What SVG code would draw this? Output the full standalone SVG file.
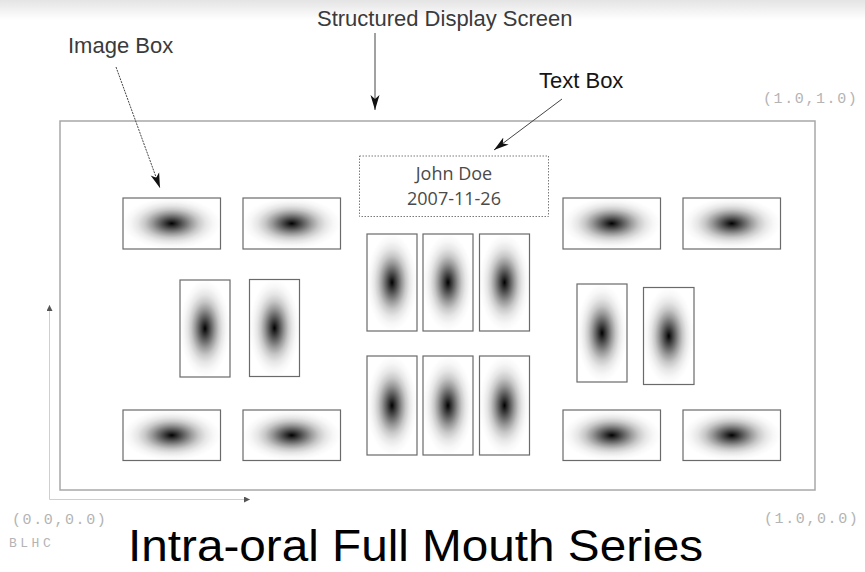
<svg xmlns="http://www.w3.org/2000/svg" width="865" height="572" viewBox="0 0 865 572">
  <defs>
    <linearGradient id="topShade" x1="0" y1="0" x2="0" y2="1">
      <stop offset="0" stop-color="#e4e4e4"/>
      <stop offset="1" stop-color="#ffffff"/>
    </linearGradient>
    <!-- soft gaussian-like blob filling each image box -->
    <radialGradient id="blob" cx="0.5" cy="0.5" r="0.5">
      <stop offset="0" stop-color="#000000"/>
      <stop offset="0.1" stop-color="#2a2a2a"/>
      <stop offset="0.25" stop-color="#636363"/>
      <stop offset="0.4" stop-color="#9a9a9a"/>
      <stop offset="0.55" stop-color="#c8c8c8"/>
      <stop offset="0.7" stop-color="#e6e6e6"/>
      <stop offset="0.85" stop-color="#f7f7f7"/>
      <stop offset="1" stop-color="#ffffff"/>
    </radialGradient>
    <marker id="head" markerUnits="userSpaceOnUse" markerWidth="18" markerHeight="12" refX="15" refY="5" orient="auto">
      <path d="M0,0.5 L15,5 L0,9.5 L4,5 z" fill="#111"/>
    </marker>
    <marker id="axisHead" markerUnits="userSpaceOnUse" markerWidth="8" markerHeight="8" refX="6" refY="3" orient="auto">
      <path d="M0,0 L6,3 L0,6 z" fill="#555"/>
    </marker>
    <style>
      .img { fill: url(#blob); stroke: #6a6a6a; stroke-width: 1.2; }
      .frame { fill: none; stroke: #a8a8a8; stroke-width: 1.5; }
      .label { font-family: "Liberation Sans", Arial, sans-serif; font-size: 22px; fill: #3a3a3a; }
      .coord { font-family: "Liberation Mono", "Courier New", monospace; font-size: 15px; fill: #b4b4b4; letter-spacing: 1.6px; }
      .tb { font-family: "Open Sans", "Noto Sans", sans-serif; font-size: 18px; fill: #4a4a4a; text-anchor: middle; }
      .call { fill: none; stroke: #444; stroke-width: 1; marker-end: url(#head); }
      .axis { fill: none; stroke: #cfcfcf; stroke-width: 1; marker-end: url(#axisHead); }
    </style>
  </defs>

  <rect width="865" height="572" fill="#ffffff"/>
  <rect width="865" height="20" fill="url(#topShade)"/>

  <!-- display screen -->
  <g id="screen">
    <rect class="frame" x="60" y="121" width="755" height="369"/>
  </g>

  <!-- text box -->
  <g id="text-box">
    <rect x="359.5" y="156" width="189" height="60.5" fill="none" stroke="#7a7a7a" stroke-width="1" stroke-dasharray="1.5,1.5"/>
    <text class="tb" x="454" y="180">John Doe</text>
    <text class="tb" x="454" y="205">2007-11-26</text>
  </g>

  <!-- horizontal image boxes, top row -->
  <g id="img-top-1"><rect class="img" x="123" y="198" width="97.5" height="51"/></g>
  <g id="img-top-2"><rect class="img" x="243" y="198" width="97.5" height="51"/></g>
  <g id="img-top-3"><rect class="img" x="563" y="198" width="97.5" height="51"/></g>
  <g id="img-top-4"><rect class="img" x="683" y="198" width="97.5" height="51"/></g>

  <!-- vertical image boxes, left pair -->
  <g id="img-left-1"><rect class="img" x="180" y="280" width="50" height="97"/></g>
  <g id="img-left-2"><rect class="img" x="249.5" y="279.5" width="50" height="97"/></g>

  <!-- vertical image boxes, centre block -->
  <g id="img-mid-1"><rect class="img" x="367" y="234" width="50" height="97"/></g>
  <g id="img-mid-2"><rect class="img" x="423" y="234" width="50" height="97"/></g>
  <g id="img-mid-3"><rect class="img" x="479.5" y="234" width="50" height="97"/></g>
  <g id="img-mid-4"><rect class="img" x="367" y="356" width="50" height="99"/></g>
  <g id="img-mid-5"><rect class="img" x="423" y="356" width="50" height="99"/></g>
  <g id="img-mid-6"><rect class="img" x="479.5" y="356" width="50" height="99"/></g>

  <!-- vertical image boxes, right pair -->
  <g id="img-right-1"><rect class="img" x="577" y="284" width="50" height="98"/></g>
  <g id="img-right-2"><rect class="img" x="643.5" y="287.5" width="50.5" height="97"/></g>

  <!-- horizontal image boxes, bottom row -->
  <g id="img-bot-1"><rect class="img" x="123" y="410" width="97.5" height="50.5"/></g>
  <g id="img-bot-2"><rect class="img" x="243" y="410" width="97.5" height="50.5"/></g>
  <g id="img-bot-3"><rect class="img" x="563" y="410" width="97.5" height="50.5"/></g>
  <g id="img-bot-4"><rect class="img" x="683" y="410" width="97.5" height="50.5"/></g>

  <!-- labels -->
  <g id="label-structured">
    <text class="label" x="317" y="26">Structured Display Screen</text>
  </g>
  <g id="label-image-box">
    <text class="label" x="68" y="53">Image Box</text>
  </g>
  <g id="label-text-box">
    <text class="label" x="539" y="88" style="fill:#151515">Text Box</text>
  </g>

  <!-- coordinate markers -->
  <g id="coords">
    <text class="coord" x="763" y="103">(1.0,1.0)</text>
    <text class="coord" x="764" y="523">(1.0,0.0)</text>
    <text class="coord" x="12" y="524">(0.0,0.0)</text>
    <text class="coord" x="9" y="547" style="font-size:13px;letter-spacing:3.5px">BLHC</text>
  </g>

  <!-- connectors -->
  <g id="connectors">
    <line class="call" x1="375" y1="33" x2="375" y2="110"/>
    <line class="call" x1="116" y1="67" x2="160" y2="188" stroke-dasharray="2,1"/>
    <line class="call" x1="562" y1="99" x2="494" y2="150"/>
    <line class="axis" x1="49.5" y1="499.5" x2="49.5" y2="305"/>
    <line class="axis" x1="49.5" y1="499.5" x2="250" y2="499.5"/>
  </g>

  <!-- title -->
  <g id="title">
    <text x="128" y="561" style="font-family:'Liberation Sans', Arial, sans-serif; font-size:44px; fill:#000" textLength="575" lengthAdjust="spacingAndGlyphs">Intra-oral Full Mouth Series</text>
  </g>
</svg>
